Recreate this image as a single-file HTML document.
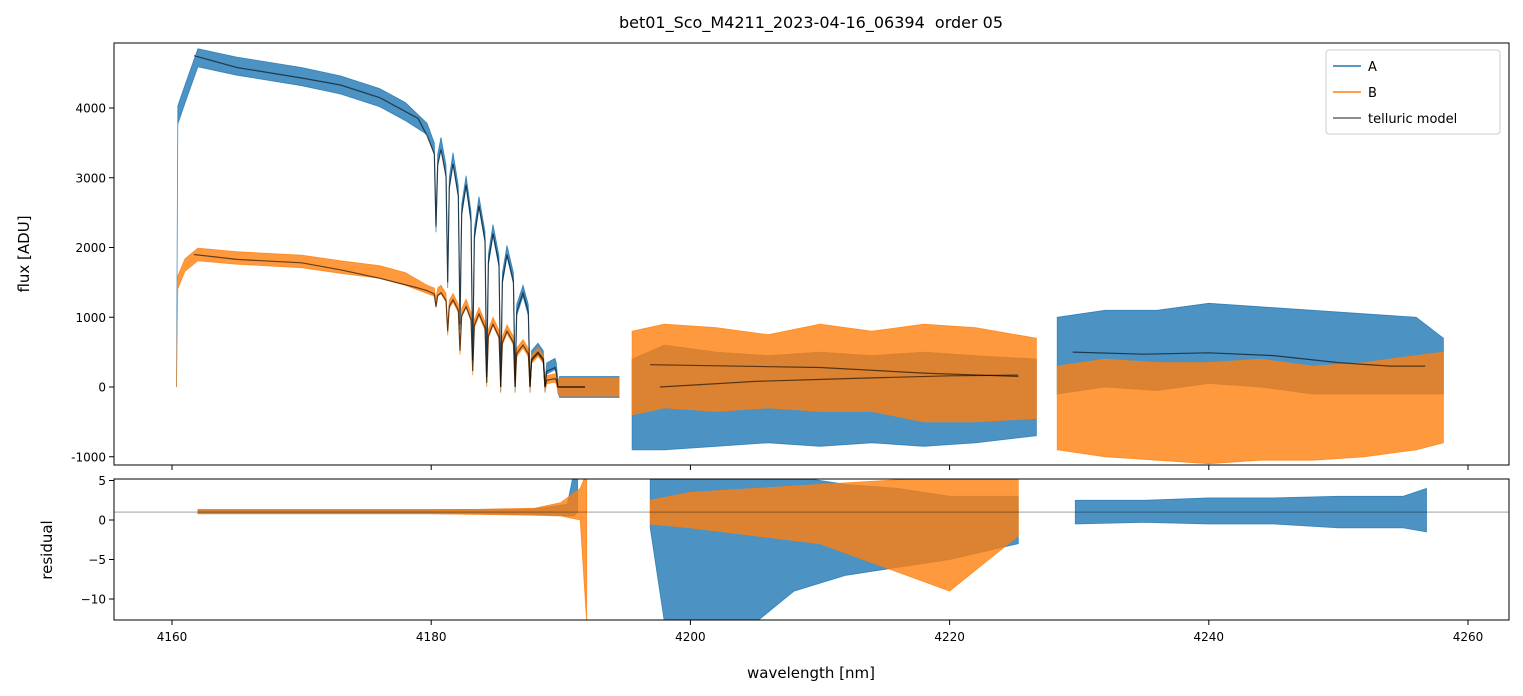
<!DOCTYPE html>
<html><head><meta charset="utf-8"><style>
html,body{margin:0;padding:0;background:#fff;}
svg{display:block;font-family:"DejaVu Sans","Liberation Sans",sans-serif;}
</style></head><body>
<svg id="chart" width="1523" height="696" viewBox="0 0 1523 696" xmlns="http://www.w3.org/2000/svg">
<defs>
<clipPath id="clipTop"><rect x="114" y="43" width="1395" height="422"/></clipPath>
<clipPath id="clipBot"><rect x="114" y="479" width="1395" height="141"/></clipPath>
</defs>
<text x="811" y="28" text-anchor="middle" font-size="16" xml:space="preserve">bet01_Sco_M4211_2023-04-16_06394  order 05</text>
<text transform="translate(29,254) rotate(-90)" text-anchor="middle" font-size="15">flux [ADU]</text>
<text transform="translate(52,550) rotate(-90)" text-anchor="middle" font-size="15">residual</text>
<text x="811" y="678" text-anchor="middle" font-size="15">wavelength [nm]</text>
<g id="topG" clip-path="url(#clipTop)"></g>
<g id="botG" clip-path="url(#clipBot)"></g>
<rect x="114" y="43" width="1395" height="422" fill="none" stroke="#000" stroke-width="1"/>
<rect x="114" y="479" width="1395" height="141" fill="none" stroke="#000" stroke-width="1"/>
<g id="ticks"></g>
<g>
<rect x="1326" y="50" width="174" height="84" rx="3" fill="#fff" fill-opacity="0.8" stroke="#ccc"/>
<line x1="1333" y1="66" x2="1361" y2="66" stroke="#1f77b4" stroke-width="1.5"/>
<text x="1368" y="71" font-size="13">A</text>
<line x1="1333" y1="92" x2="1361" y2="92" stroke="#ff7f0e" stroke-width="1.5"/>
<text x="1368" y="97" font-size="13">B</text>
<line x1="1333" y1="118" x2="1361" y2="118" stroke="#000" stroke-opacity="0.6" stroke-width="1.5"/>
<text x="1368" y="123" font-size="13">telluric model</text>
</g>
</svg>
<script>
// ---- data ----
const dipWl=[4179.68,4180.37,4180.76,4181.27,4181.68,4182.22,4182.69,4183.20,4183.69,4184.28,4184.77,4185.36,4185.85,4186.47,4187.08,4187.62,4188.24,4188.78,4189.55,4189.78];
const dipA=[3700,2300,3500,1500,3280,900,2950,380,2650,140,2250,0,1950,0,1380,0,550,0,330,0];
const dipB=[1400,1200,1400,800,1280,520,1200,230,1080,60,940,0,830,0,620,0,500,0,130,0];
const dipModelA=[3600,2300,3400,1500,3200,900,2900,380,2600,140,2200,0,1900,0,1350,0,500,0,280,0];
const dipModelB=[1380,1150,1350,800,1250,520,1150,230,1050,60,900,0,800,0,600,0,480,0,120,0];
const a1Wl=[4160.35,4160.45,4161,4162,4165,4170,4173,4176,4178];
const a1C=[0,3900,4200,4720,4600,4450,4330,4150,3950];
const a1Tail=[[4190.5,0],[4194.5,0]];
const b1C=[0,1500,1750,1900,1850,1800,1720,1650,1550];
const a2Wl=[4195.5,4198,4202,4206,4210,4214,4218,4222,4226.7];
const a2Up=[400,600,500,450,500,450,500,450,400];
const a2Lo=[-900,-900,-850,-800,-850,-800,-850,-800,-700];
const b2Up=[800,900,850,750,900,800,900,850,700];
const b2Lo=[-400,-300,-350,-300,-350,-350,-500,-500,-450];
const a3Wl=[4228.3,4232,4236,4240,4244,4248,4252,4256,4258.1];
const a3Up=[1000,1100,1100,1200,1150,1100,1050,1000,700];
const a3Lo=[-100,0,-50,50,0,-100,-100,-100,-100];
const b3Up=[300,400,350,350,400,300,350,450,500];
const b3Lo=[-900,-1000,-1050,-1100,-1050,-1050,-1000,-900,-800];
const mA1Wl=[4161.7,4165,4170,4173,4176,4179];
const mA1=[4750,4580,4430,4330,4150,3850];
const mB1=[1900,1830,1780,1680,1560,1420];
const mA2Wl=[4197.65,4205,4212,4220,4225.3];const mA2=[0,80,120,160,170];
const mB2Wl=[4196.9,4210,4218,4225.3];const mB2=[320,280,200,150];
const m3Wl=[4229.5,4235,4240,4245,4250,4254,4256.7];const m3=[500,470,490,450,350,300,300];
const rA1Wl=[4162,4170,4180,4188,4190.5,4191,4191.3];const rA1Up=[1.3,1.3,1.3,1.4,2,6,6];const rA1Lo=[0.8,0.8,0.8,0.7,0.5,0.5,1];
const rB1Wl=[4162,4170,4180,4188,4190,4191.5,4192];const rB1Up=[1.2,1.2,1.2,1.5,2.2,4,6];const rB1Lo=[0.8,0.8,0.8,0.6,0.5,0,-13];
const rA2Wl=[4196.9,4198,4205,4208,4212,4216,4220,4225.3];const rA2Up=[5.5,5.5,5.5,5.5,4.5,4,3,3];const rA2Lo=[-1,-13,-13,-9,-7,-6,-5,-3];
const rB2Wl=[4196.9,4200,4205,4210,4215,4220,4225.3];const rB2Up=[2.5,3.5,4,4.5,5,5.5,5.5];const rB2Lo=[-0.5,-1,-2,-3,-6,-9,-2];
const rA3Wl=[4229.7,4235,4240,4245,4250,4255,4256.8];const rA3Up=[2.5,2.5,2.8,2.8,3,3,4];const rA3Lo=[-0.5,-0.3,-0.5,-0.5,-1,-1,-1.5];
const xTicks=[4160,4180,4200,4220,4240,4260];
const yTicksTop=[-1000,0,1000,2000,3000,4000];
const yTicksBot=[-10,-5,0,5];
// ---- axes ----
const sx=w=>172+(w-4160)*12.96;
const syT=v=>387-v*0.06975;
const syB=v=>520-v*7.9;
const NS="http://www.w3.org/2000/svg";
function mk(tag,parent,attrs){const e=document.createElementNS(NS,tag);for(const k in attrs)e.setAttribute(k,attrs[k]);parent.appendChild(e);return e;}
const topG=document.getElementById('topG'),botG=document.getElementById('botG'),tk=document.getElementById('ticks');
// expand dip arrays: narrow dips with broad rounded tops
function expand(wl,vals){
  const ow=[],ov=[];
  for(let i=0;i<wl.length;i++){
    if(i%2===1){
      const p=vals[i-1],n=(i+1<vals.length)?vals[i+1]:0,v=vals[i];
      ow.push(wl[i]-0.13);ov.push(v+(p-v)*0.8);
      ow.push(wl[i]);ov.push(v);
      ow.push(wl[i]+0.13);ov.push(v+(n-v)*0.8);
    }else{ow.push(wl[i]);ov.push(vals[i]);}
  }
  return [ow,ov];
}
function band(g,wl,up,lo,sy,col,name){
  let pts=wl.map((w,i)=>sx(w).toFixed(1)+','+sy(up[i]).toFixed(1));
  for(let i=wl.length-1;i>=0;i--)pts.push(sx(wl[i]).toFixed(1)+','+sy(lo[i]).toFixed(1));
  const p=mk('polygon',g,{points:pts.join(' '),fill:col,'fill-opacity':0.8,stroke:col,'stroke-width':0.8,'stroke-opacity':0.8});
  
  
}
function line(g,wl,v,sy,name){
  const p=mk('polyline',g,{points:wl.map((w,i)=>sx(w).toFixed(1)+','+sy(v[i]).toFixed(1)).join(' '),fill:'none',stroke:'#000','stroke-opacity':0.6,'stroke-width':1.2});
  
  
}
const eA=expand(dipWl,dipA),eB=expand(dipWl,dipB),eMA=expand(dipWl,dipModelA),eMB=expand(dipWl,dipModelB);
// seg1
const A1wl=a1Wl.concat(eA[0],a1Tail.map(t=>t[0]));
const A1c=a1C.concat(eA[1],a1Tail.map(t=>t[1]));
const B1c=b1C.concat(eB[1],a1Tail.map(t=>t[1]));
const A1h=A1wl.map((w,i)=>i==0?0:(w>4189.9?150:(w>4179?80:130)));
const B1h=A1wl.map((w,i)=>i==0?0:(w>4189.9?130:(w>4179?60:90)));
band(topG,A1wl,A1c.map((v,i)=>v+A1h[i]),A1c.map((v,i)=>v-A1h[i]),syT,'#1f77b4','series-a-seg1');
band(topG,A1wl,B1c.map((v,i)=>v+B1h[i]),B1c.map((v,i)=>v-B1h[i]),syT,'#ff7f0e','series-b-seg1');
band(topG,a2Wl,a2Up,a2Lo,syT,'#1f77b4','series-a-seg2');
band(topG,a2Wl,b2Up,b2Lo,syT,'#ff7f0e','series-b-seg2');
band(topG,a3Wl,a3Up,a3Lo,syT,'#1f77b4','series-a-seg3');
band(topG,a3Wl,b3Up,b3Lo,syT,'#ff7f0e','series-b-seg3');
line(topG,mA1Wl.concat(eMA[0],[4191.87]),mA1.concat(eMA[1],[0]),syT,'telluric-model-a-seg1');
line(topG,mA1Wl.concat(eMB[0],[4191.87]),mB1.concat(eMB[1],[0]),syT,'telluric-model-b-seg1');
line(topG,mA2Wl,mA2,syT,'telluric-model-a-seg2');
line(topG,mB2Wl,mB2,syT,'telluric-model-b-seg2');
line(topG,m3Wl,m3,syT,'telluric-model-seg3');
// residual
band(botG,rA1Wl,rA1Up,rA1Lo,syB,'#1f77b4','residual-a-seg1');
band(botG,rB1Wl,rB1Up,rB1Lo,syB,'#ff7f0e','residual-b-seg1');
band(botG,rA2Wl,rA2Up,rA2Lo,syB,'#1f77b4','residual-a-seg2');
band(botG,rB2Wl,rB2Up,rB2Lo,syB,'#ff7f0e','residual-b-seg2');
band(botG,rA3Wl,rA3Up,rA3Lo,syB,'#1f77b4','residual-a-seg3');
const ref=mk('line',botG,{x1:114,x2:1509,y1:syB(1),y2:syB(1),stroke:'#000','stroke-opacity':0.6,'stroke-width':0.6});


// ticks
xTicks.forEach(t=>{
  const x=sx(t);
  mk('line',tk,{x1:x,x2:x,y1:465,y2:470,stroke:'#000'});
  mk('line',tk,{x1:x,x2:x,y1:620,y2:625,stroke:'#000'});
  const l=mk('text',tk,{x:x,y:641,'text-anchor':'middle','font-size':12});
  l.textContent=t;
  
  
});
yTicksTop.forEach(t=>{
  const y=syT(t);
  mk('line',tk,{x1:109,x2:114,y1:y,y2:y,stroke:'#000'});
  const l=mk('text',tk,{x:106,y:y+4.5,'text-anchor':'end','font-size':12});
  l.textContent=t;
  
  
});
yTicksBot.forEach(t=>{
  const y=syB(t);
  mk('line',tk,{x1:109,x2:114,y1:y,y2:y,stroke:'#000'});
  const l=mk('text',tk,{x:106,y:y+4.5,'text-anchor':'end','font-size':12});
  l.textContent=(t<0?'\u2212'+(-t):t);
  
  
});
</script>
</body></html>
